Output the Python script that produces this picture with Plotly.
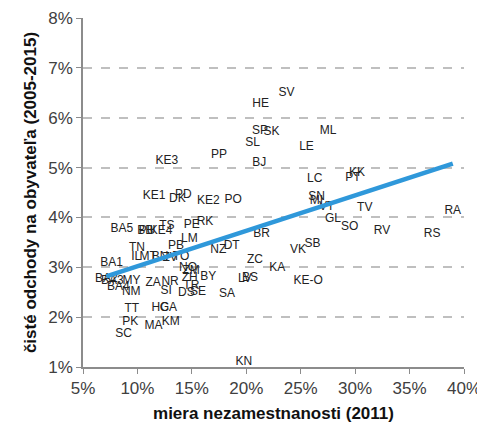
import numpy as np
import plotly.graph_objects as go

labels = ["BA1","BA2","BA3","BA4","BA5","BB","PU","KE4","TS","PE","RK","LM","PB","TN","NZ","DT",
          "IL","MT","BN","ZV","TO","MY","NM","ZA","NR","SI","NO","ZM","ZH","BY","TR","DS","SE","SA",
          "LV","BS","TT","HC","GA","PK","MA","KM","SC","KN",
          "SV","HE","SP","SK","ML","SL","LE","PP","KE3","BJ","LC","KE1","PD","DK","KE2","PO",
          "SN","MI","VT","KK","PT","TV","RA","GL","SO","RV","RS","BR","SB","VK","ZC","KA","KE-O"]
unemployment = [7.62,7.14,7.69,8.24,8.57,10.71,10.89,12.18,12.70,14.99,16.21,14.77,13.55,9.95,17.43,18.66,
                9.89,10.99,12.09,13.00,14.01,9.45,9.43,11.44,13.00,12.64,14.65,14.93,14.81,16.51,14.95,14.50,15.57,18.23,
                19.88,20.34,9.49,12.09,12.85,9.34,11.47,13.07,8.72,19.78,
                23.70,21.32,21.25,22.32,27.51,20.58,25.53,17.49,12.70,21.19,26.29,11.54,14.22,13.67,16.51,18.80,
                26.45,26.45,27.39,30.17,29.80,30.88,38.97,27.97,29.50,32.46,37.08,21.41,26.08,24.76,20.79,22.84,25.68]
departures = [3.08,2.77,2.73,2.61,3.77,3.73,3.73,3.73,3.82,3.85,3.90,3.56,3.43,3.38,3.35,3.43,
              3.21,3.21,3.21,3.19,3.21,2.73,2.51,2.69,2.71,2.53,2.99,2.93,2.78,2.80,2.63,2.48,2.50,2.46,
              2.76,2.78,2.16,2.18,2.18,1.91,1.82,1.91,1.66,1.11,
              6.50,6.28,5.74,5.72,5.74,5.49,5.41,5.25,5.14,5.10,4.77,4.43,4.45,4.37,4.33,4.35,
              4.41,4.32,4.20,4.90,4.79,4.19,4.12,3.97,3.81,3.72,3.67,3.67,3.46,3.34,3.15,2.98,2.73]

x = np.array(unemployment) / 100
y = np.array(departures) / 100
slope, intercept = np.polyfit(x, y, 1)
xl = np.array([x.min(), x.max()])
yl = slope * xl + intercept

fig = go.Figure()
fig.add_trace(go.Scatter(x=x, y=y, mode="text", text=labels, textposition="middle center",
                         textfont=dict(family="Liberation Sans, Arial, sans-serif", size=12, color="#222222"),
                         hoverinfo="skip", showlegend=False, cliponaxis=False))
fig.add_trace(go.Scatter(x=xl, y=yl, mode="lines", line=dict(color="#2F98DA", width=4.5),
                         hoverinfo="skip", showlegend=False))

fig.update_layout(
    width=477, height=420,
    margin=dict(l=75, r=21, t=10, b=61, autoexpand=False),
    paper_bgcolor="white", plot_bgcolor="white",
    font=dict(family="Liberation Sans, Arial, sans-serif", color="#404040"),
)
fig.update_xaxes(range=[0.05, 0.40], dtick=0.05, tickformat=".0%", showgrid=False, zeroline=False,
                 automargin=False,
                 showline=True, linecolor="#8C8C8C", linewidth=1.5, ticks="outside", tickcolor="#8C8C8C",
                 ticklen=5, tickfont=dict(size=17, color="#404040"),
                 title=dict(text="miera nezamestnanosti (2011)", standoff=10,
                            font=dict(family="Liberation Sans Narrow, Arial Narrow, sans-serif", size=17, color="#111111", weight="bold")))
fig.update_yaxes(range=[0.01, 0.08], dtick=0.01, tickformat=".0%", showgrid=True, gridcolor="#BFBFBF",
                 griddash="dash", gridwidth=1.5, zeroline=False, automargin=False,
                 showline=True, linecolor="#8C8C8C", linewidth=1.5, ticks="outside", tickcolor="#8C8C8C",
                 ticklen=5, tickfont=dict(size=17, color="#404040"),
                 title=dict(text="čisté odchody na obyvateľa (2005-2015)", standoff=7,
                            font=dict(family="Liberation Sans Narrow, Arial Narrow, sans-serif", size=17, color="#111111", weight="bold")))

fig.write_html("out.html")
